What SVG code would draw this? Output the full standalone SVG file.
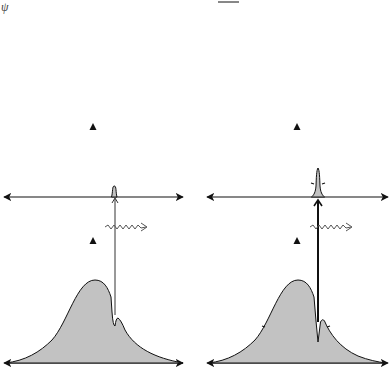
<svg xmlns="http://www.w3.org/2000/svg" width="390" height="375" viewBox="0 0 390 375">
<style>
.axis{stroke:#111;stroke-width:1.2;fill:none}
.curve{fill:#c2c2c2;stroke:#111;stroke-width:1}
.tri{fill:#111}
.wave{fill:none;stroke:#555;stroke-width:1}
.tick{stroke:#111;stroke-width:1.3}
</style>
<defs>
<marker id="ah" viewBox="0 0 10 10" refX="9" refY="5" markerWidth="8" markerHeight="8" markerUnits="userSpaceOnUse" orient="auto-start-reverse">
<path d="M0,0 L10,5 L0,10 L2.5,5 Z" fill="#111"/>
</marker>
</defs>
<rect width="390" height="375" fill="#fff"/>
<text x="1" y="11" font-family="Liberation Serif, serif" font-style="italic" font-size="12" fill="#444">ψ</text>
<line x1="218" y1="2" x2="239" y2="2" stroke="#111" stroke-width="1"/>

<g id="connectors">
<line class="axis" x1="4" y1="197" x2="183" y2="197" marker-start="url(#ah)" marker-end="url(#ah)"/>
<line class="axis" x1="4" y1="363" x2="183" y2="363" marker-start="url(#ah)" marker-end="url(#ah)"/>
<line class="axis" x1="207" y1="197" x2="388" y2="197" marker-start="url(#ah)" marker-end="url(#ah)"/>
<line class="axis" x1="207" y1="363" x2="388" y2="363" marker-start="url(#ah)" marker-end="url(#ah)"/>
</g>

<g id="left-bottom-curve">
<path class="curve" d="M5,363 C25,361 40,352 52,340 C68,322 77,280 95,280 C104,280 108,288 111,297 L112,312 Q113,326 115,326 Q116,318 118,318 Q121,320 125,330 C135,348 155,358 183,363 Z"/>
</g>
<g id="left-top-peak">
<path class="curve" d="M111.5,197 C113,192 112,186 114.3,186 C116.6,186 115.6,192 117,197 Z"/>
</g>
<g id="left-transition">
<line x1="115" y1="199" x2="115" y2="315" stroke="#333" stroke-width="1"/>
<path d="M112,203 L115,198 L118,203" fill="none" stroke="#333" stroke-width="1"/>
</g>
<g id="left-wave">
<path class="wave" d="M105,227 L108,225 L111,229 L114,225 L117,229 L120,225 L123,229 L126,225 L129,229 L132,225 L135,229 L138,225 L141,228 L146,227"/>
<path class="wave" d="M141,223 L147,227 L141,231"/>
</g>
<g id="left-tri-top"><path class="tri" d="M89.5,130 L93,123 L96.5,130 Z"/></g>
<g id="left-tri-bottom"><path class="tri" d="M89.5,244 L93,237 L96.5,244 Z"/></g>

<g id="right-bottom-curve">
<path class="curve" d="M208,363 C228,361 243,352 255,340 C271,322 280,280 298,280 C307,280 311,288 314,297 L316,321 L318,342 L320.5,322 Q322.5,318 324.5,321 C330,334 340,348 358,356 C368,360 378,362 386,363 Z"/>
<line class="tick" x1="262" y1="326" x2="265" y2="327"/>
<line class="tick" x1="330" y1="326" x2="327" y2="327"/>
</g>
<g id="right-top-peak">
<path class="curve" d="M311.5,197 C314,195 315.5,192 316,186 C316.3,178 316.5,170 318,168 C319.5,170 319.7,178 320,186 C320.5,192 322,195 324.5,197 Z"/>
<line class="tick" x1="311" y1="183" x2="314" y2="184"/>
<line class="tick" x1="325" y1="183" x2="322" y2="184"/>
</g>
<g id="right-transition">
<line x1="318" y1="201" x2="318" y2="322" stroke="#111" stroke-width="2"/>
<path d="M314,206 L318,200 L322,206" fill="none" stroke="#111" stroke-width="1.6"/>
</g>
<g id="right-wave">
<path class="wave" d="M310,227 L313,225 L316,229 L319,225 L322,229 L325,225 L328,229 L331,225 L334,229 L337,225 L340,229 L343,225 L346,228 L351,227"/>
<path class="wave" d="M346,223 L352,227 L346,231"/>
</g>
<g id="right-tri-top"><path class="tri" d="M293.5,130 L297,123 L300.5,130 Z"/></g>
<g id="right-tri-bottom"><path class="tri" d="M293.5,244 L297,237 L300.5,244 Z"/></g>
</svg>
